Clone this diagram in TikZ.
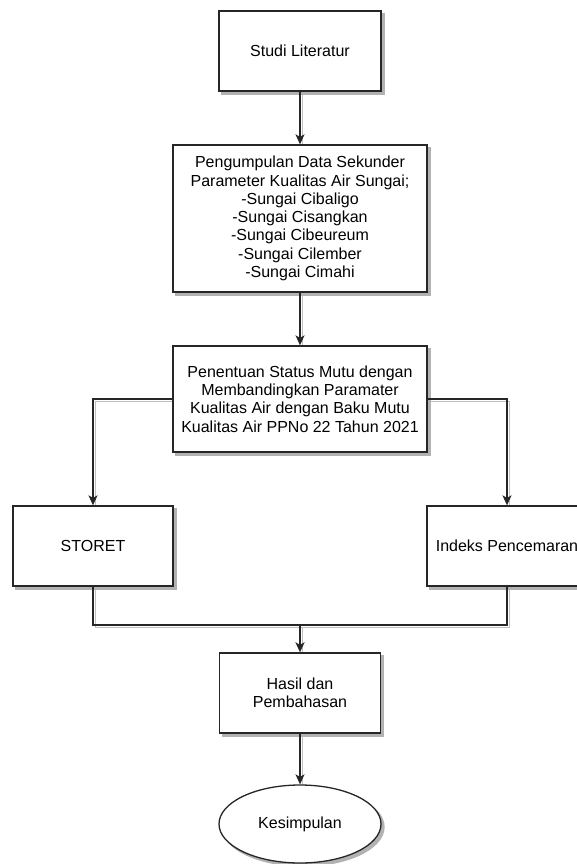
\documentclass[tikz,border=0pt]{standalone}
\usepackage{fontspec}
\setmainfont{Liberation Sans}
\usetikzlibrary{arrows.meta,shapes.geometric,backgrounds}
\begin{document}
\begin{tikzpicture}[x=1pt,y=-1pt,
  box/.style={draw=black!85, line width=1.3pt, fill=white, rectangle, inner sep=0pt,
    align=center, font=\fontsize{16}{18.3}\selectfont,
    preaction={fill=black!30, draw=black!30, transform canvas={shift={(3pt,-3pt)}}}},
  oval/.style={box, ellipse},
  conn/.style={draw=black!85, line width=1.3pt, -{Stealth[length=10pt,width=9pt,inset=2.5pt]}},
  plain/.style={draw=black!85, line width=1.3pt},
  shade/.style={draw=black!25, line width=1.5pt, transform canvas={shift={(2.5pt,-2.5pt)}}}]
\useasboundingbox (0,0) rectangle (577,864);
\node[box, minimum width=162pt, minimum height=80pt] (studi) at (300,51) {Studi Literatur};
\node[box, minimum width=254pt, minimum height=147pt] (kumpul) at (300,218.5)
  {Pengumpulan Data Sekunder\\Parameter Kualitas Air Sungai;\\-Sungai Cibaligo\\-Sungai Cisangkan\\-Sungai Cibeureum\\-Sungai Cilember\\-Sungai Cimahi};
\node[box, minimum width=254pt, minimum height=106pt] (tentu) at (300,399)
  {Penentuan Status Mutu dengan\\Membandingkan Paramater\\Kualitas Air dengan Baku Mutu\\Kualitas Air PPNo 22 Tahun 2021};
\node[box, minimum width=160pt, minimum height=80pt] (storet) at (93,546) {STORET};
\node[box, minimum width=160pt, minimum height=80pt] (indeks) at (507,546) {Indeks Pencemaran};
\node[box, minimum width=161pt, minimum height=80pt] (hasil) at (300,693) {Hasil dan\\Pembahasan};
\node[oval, minimum width=162pt, minimum height=78pt] (simpul) at (300,824) {Kesimpulan};
\coordinate (j) at (300,625);
\begin{scope}[on background layer]
  \draw[shade] (studi.south) -- (kumpul.north);
  \draw[shade] (kumpul.south) -- (tentu.north);
  \draw[shade] (tentu.west) -| (storet.north);
  \draw[shade] (tentu.east) -| (indeks.north);
  \draw[shade] (storet.south) |- (j) -| (indeks.south);
  \draw[shade] (j) -- (hasil.north);
  \draw[shade] (hasil.south) -- (simpul.north);
\end{scope}
\draw[conn] (studi.south) -- (kumpul.north);
\draw[conn] (kumpul.south) -- (tentu.north);
\draw[conn] (tentu.west) -| (storet.north);
\draw[conn] (tentu.east) -| (indeks.north);
\draw[plain] (storet.south) |- (j) -| (indeks.south);
\draw[conn, line width=2pt] (j) -- (hasil.north);
\draw[conn] (hasil.south) -- (simpul.north);
\end{tikzpicture}
\end{document}
